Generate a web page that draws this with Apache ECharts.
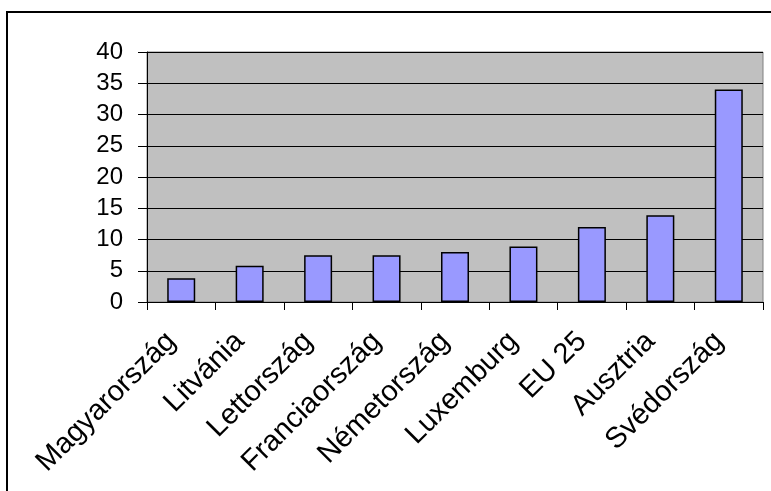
<!DOCTYPE html>
<html>
<head>
<meta charset="utf-8">
<script src="https://cdn.jsdelivr.net/npm/echarts@6/dist/echarts.min.js"></script>
<style>
  html, body { margin: 0; padding: 0; background: #fff; }
  #chart { width: 771px; height: 491px; }
</style>
</head>
<body>
<div id="chart"></div>
<script>
// országok és értékek
const categories = ['Magyarország', 'Litvánia', 'Lettország', 'Franciaország', 'Németország', 'Luxemburg', 'EU 25', 'Ausztria', 'Svédország'];
const values = [3.8, 5.8, 7.5, 7.5, 8.0, 8.9, 12.0, 13.9, 34.0];

const chart = echarts.init(document.getElementById('chart'));

chart.setOption({
  animation: false,
  textStyle: { fontFamily: 'Liberation Sans, Arial, sans-serif' },
  // külső keret
  graphic: [{
    type: 'rect',
    shape: { x: 7, y: 12, width: 800, height: 520 },
    style: { fill: 'none', stroke: '#000', lineWidth: 2 },
    silent: true
  }],
  grid: {
    left: 147,
    right: 8,
    top: 52,
    bottom: 189,
    show: true,
    backgroundColor: '#c0c0c0',
    borderColor: '#808080',
    borderWidth: 1
  },
  xAxis: {
    type: 'category',
    data: categories,
    axisLine: { lineStyle: { color: '#000', width: 1 } },
    axisTick: { show: true, length: 8, lineStyle: { color: '#000' } },
    axisLabel: {
      rotate: 45, color: '#000', fontSize: 29, margin: 25, padding: [0, 14, 0, 0],
      interval: 0, fontFamily: 'Liberation Sans, Arial, sans-serif'
    }
  },
  yAxis: {
    type: 'value',
    min: 0,
    max: 40,
    interval: 5,
    axisLine: { show: true, lineStyle: { color: '#000', width: 1 } },
    axisTick: { show: true, length: 9, lineStyle: { color: '#000' } },
    axisLabel: { color: '#000', fontSize: 24, margin: 24, fontFamily: 'Liberation Sans, Arial, sans-serif' },
    splitLine: { lineStyle: { color: '#000', width: 1 } }
  },
  series: [{
    type: 'bar',
    data: values,
    barWidth: 28,
    itemStyle: { color: '#9999ff', borderColor: '#000', borderWidth: 1.5 }
  }]
});
</script>
</body>
</html>
